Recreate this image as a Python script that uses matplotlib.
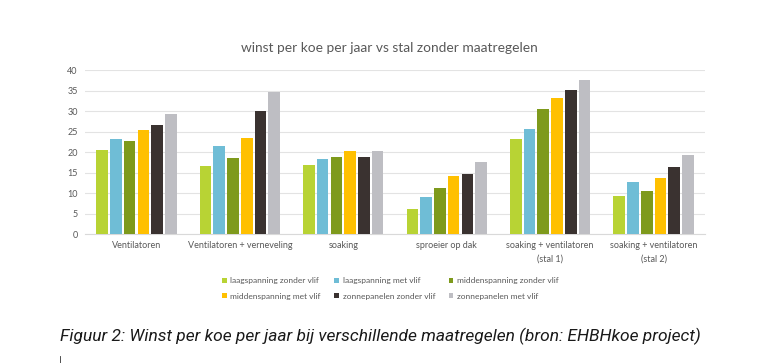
import numpy as np
import matplotlib.pyplot as plt
from matplotlib import font_manager

categories = ["Ventilatoren", "Ventilatoren + verneveling", "soaking", "sproeier op dak",
              "soaking + ventilatoren\n(stal 1)", "soaking + ventilatoren\n(stal 2)"]
series_names = ["laagspanning zonder vlif", "laagspanning met vlif", "middenspanning zonder vlif",
                "middenspanning met vlif", "zonnepanelen zonder vlif", "zonnepanelen met vlif"]
laag_zonder = [20.5, 16.7, 16.8, 6.1, 23.3, 9.4]
laag_met = [23.3, 21.5, 18.3, 9.0, 25.7, 12.6]
midden_zonder = [22.6, 18.5, 18.8, 11.2, 30.6, 10.5]
midden_met = [25.4, 23.4, 20.2, 14.2, 33.2, 13.7]
zon_zonder = [26.7, 29.9, 18.8, 14.6, 35.1, 16.3]
zon_met = [29.4, 34.6, 20.2, 17.6, 37.6, 19.3]
colors = ["#b8d334", "#6fbdd6", "#7e9a1c", "#ffc000", "#3a3230", "#bebec3"]

series = [laag_zonder, laag_met, midden_zonder, midden_met, zon_zonder, zon_met]

plt.rcParams["font.family"] = ["Lato", "DejaVu Sans"]

fig = plt.figure(figsize=(7.7, 3.63), dpi=100)
ax = fig.add_axes([0.110, 0.355, 0.806, 0.452])

x = np.arange(len(categories))
step = 0.133
width = 0.112
for i, (vals, name, c) in enumerate(zip(series, series_names, colors)):
    ax.bar(x + (i - 2.5) * step, vals, width, color=c, label=name, zorder=3)

ax.set_xlim(-0.5, len(categories) - 0.5)
ax.set_ylim(0, 40)
ax.set_yticks(range(0, 41, 5))
ax.grid(axis="y", color="#e3e3e3", linewidth=0.8, zorder=0)
for s in ["top", "right", "left"]:
    ax.spines[s].set_visible(False)
ax.spines["bottom"].set_color("#d9d9d9")
ax.tick_params(axis="both", length=0, labelsize=6.5, colors="#595959", pad=5)
ax.set_xticks(x)
ax.set_xticklabels(categories, fontsize=6.5, color="#595959", linespacing=1.6)

fig.text(0.506, 0.868, "winst per koe per jaar vs stal zonder maatregelen",
         ha="center", va="center", fontsize=9.9, color="#595959")

# legend filled row by row like the original
handles, labels = ax.get_legend_handles_labels()
order = [0, 3, 1, 4, 2, 5]
fig.legend([handles[i] for i in order], [labels[i] for i in order],
           loc="center", bbox_to_anchor=(0.507, 0.205), ncol=3,
           frameon=False, fontsize=6, handlelength=0.55, handleheight=0.55,
           handletextpad=0.45, columnspacing=1.6, labelspacing=1.0,
           labelcolor="#595959")

names = {f.name for f in font_manager.fontManager.ttflist}
cap_font = ["Liberation Sans Narrow"] if "Liberation Sans Narrow" in names else ["Roboto", "DejaVu Sans"]
cap = fig.text(0.078, 0.072,
               "Figuur 2: Winst per koe per jaar bij verschillende maatregelen (bron: EHBHkoe project)",
               ha="left", va="center", fontsize=12, style="italic", color="#1a1a1a",
               family=cap_font)
# shrink caption to the width it has in the original
fig.canvas.draw()
w = cap.get_window_extent().width
cap.set_fontsize(12 * 637 / w)

# small cursor mark below the caption
fig.add_artist(plt.Line2D([0.078, 0.078], [0.0, 0.02], color="#333333", linewidth=0.6))

fig.savefig("out.png", dpi=100)
